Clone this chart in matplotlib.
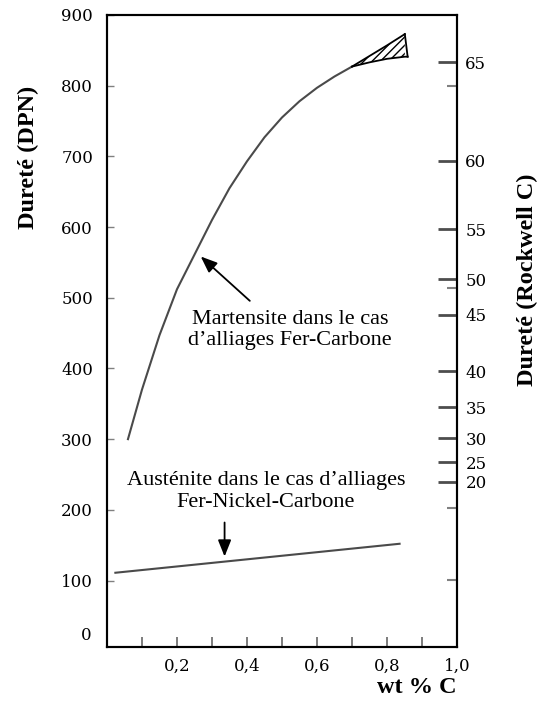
import numpy as np
import matplotlib
matplotlib.use('Agg')
import matplotlib.pyplot as plt

# martensite (Fe-C) hardness curve, DPN vs wt % C
mart_c = [0.06, 0.10, 0.15, 0.20, 0.25, 0.30, 0.35, 0.40, 0.45, 0.50,
          0.55, 0.60, 0.65, 0.70]
mart_hv = [300, 370, 447, 512, 561, 610, 655, 693, 727, 755,
           778, 797, 813, 827]
# scatter band at high carbon (hatched)
band_c = [0.70, 0.75, 0.80, 0.851]
band_hi = [827, 842, 857, 873]
band_lo = [827, 833, 838, 841]
band_end_c, band_end_hv = 0.859, 841
# austenite (Fe-Ni-C)
aust_c = [0.024, 0.836]
aust_hv = [111, 152]

# Rockwell C scale placed at equivalent DPN values
hrc_dpn = [833, 694, 597, 526, 476, 396, 345, 301, 267, 240]
hrc_lab = ['65', '60', '55', '50', '45', '40', '35', '30', '25', '20']
hrc_minor = [799, 514, 202, 101]

dpn_ticks = [100, 200, 300, 400, 500, 600, 700, 800, 900]
x_major = [0.2, 0.4, 0.6, 0.8, 1.0]
x_minor = [0.1, 0.3, 0.5, 0.7, 0.9]

serif = ['Liberation Serif', 'DejaVu Serif']
tickfont = 'DejaVu Serif'

fig = plt.figure(figsize=(5.43, 7.04), dpi=100)
ax = fig.add_axes([0.197, 0.081, 0.6446, 0.8977])
lc = '#4a4a4a'

ax.plot(mart_c, mart_hv, color=lc, lw=1.5)
ax.plot(band_c, band_hi, color='black', lw=1.3)
ax.plot(band_c + [band_end_c], band_lo + [band_end_hv], color='black', lw=1.3)
ax.plot([band_c[-1], band_end_c], [band_hi[-1], band_end_hv], color='black', lw=1.3)
ax.fill_between(band_c, band_lo, band_hi, facecolor='none', edgecolor='black',
                hatch='////', lw=0)
ax.plot(aust_c, aust_hv, color=lc, lw=1.5)

ax.set_xlim(0, 1.0)
ax.set_ylim(6, 900)
for s in ax.spines.values():
    s.set_linewidth(1.5)

ax.set_yticks(dpn_ticks)
ax.set_yticklabels([str(v) for v in dpn_ticks], family=tickfont, fontsize=12)
ax.tick_params(axis='y', direction='in', length=5, width=1, color='0.5', pad=10)
ax.text(-0.045, 22, '0', transform=ax.get_yaxis_transform(), ha='right', va='center',
        family=tickfont, fontsize=12)

ax.set_xticks(x_major)
ax.set_xticklabels([f'{v:.1f}'.replace('.', ',') for v in x_major], family=tickfont, fontsize=12)
ax.set_xticks(x_minor, minor=True)
ax.tick_params(axis='x', which='both', direction='in', length=7, width=1.2, color='0.4', pad=8)

ax2 = ax.twinx()
ax2.set_ylim(ax.get_ylim())
ax2.set_yticks(hrc_dpn)
ax2.set_yticklabels(hrc_lab, family=tickfont, fontsize=12)
ax2.set_yticks(hrc_minor, minor=True)
ax2.tick_params(axis='y', which='major', direction='in', length=14, width=2, color='0.3', pad=6)
ax2.tick_params(axis='y', which='minor', direction='in', length=7, width=1.5, color='0.5')
for s in ax2.spines.values():
    s.set_linewidth(1.5)

fig.text(0.052, 0.777, 'Dureté (DPN)', rotation=90, ha='center', va='center',
         family=serif, fontsize=17.5, fontweight='bold')
fig.text(0.972, 0.602, 'Dureté (Rockwell C)', rotation=90, ha='center', va='center',
         family=serif, fontsize=17.5, fontweight='bold')
fig.text(0.768, 0.023, 'wt % C', ha='center', va='center',
         family=serif, fontsize=17.5, fontweight='bold')

ax.annotate('', xy=(0.262, 561), xytext=(0.414, 493),
            arrowprops=dict(arrowstyle='-|>,head_length=1.0,head_width=0.4', color='black', lw=1.3))
ax.text(0.523, 455, 'Martensite dans le cas\nd’alliages Fer-Carbone', ha='center', va='center',
        family=serif, fontsize=16, linespacing=1.15)

ax.annotate('', xy=(0.336, 130), xytext=(0.336, 186),
            arrowprops=dict(arrowstyle='-|>,head_length=1.0,head_width=0.4', color='black', lw=1.3))
ax.text(0.454, 226, 'Austénite dans le cas d’alliages\nFer-Nickel-Carbone', ha='center', va='center',
        family=serif, fontsize=16, linespacing=1.25)

fig.savefig('out.png', dpi=100)
